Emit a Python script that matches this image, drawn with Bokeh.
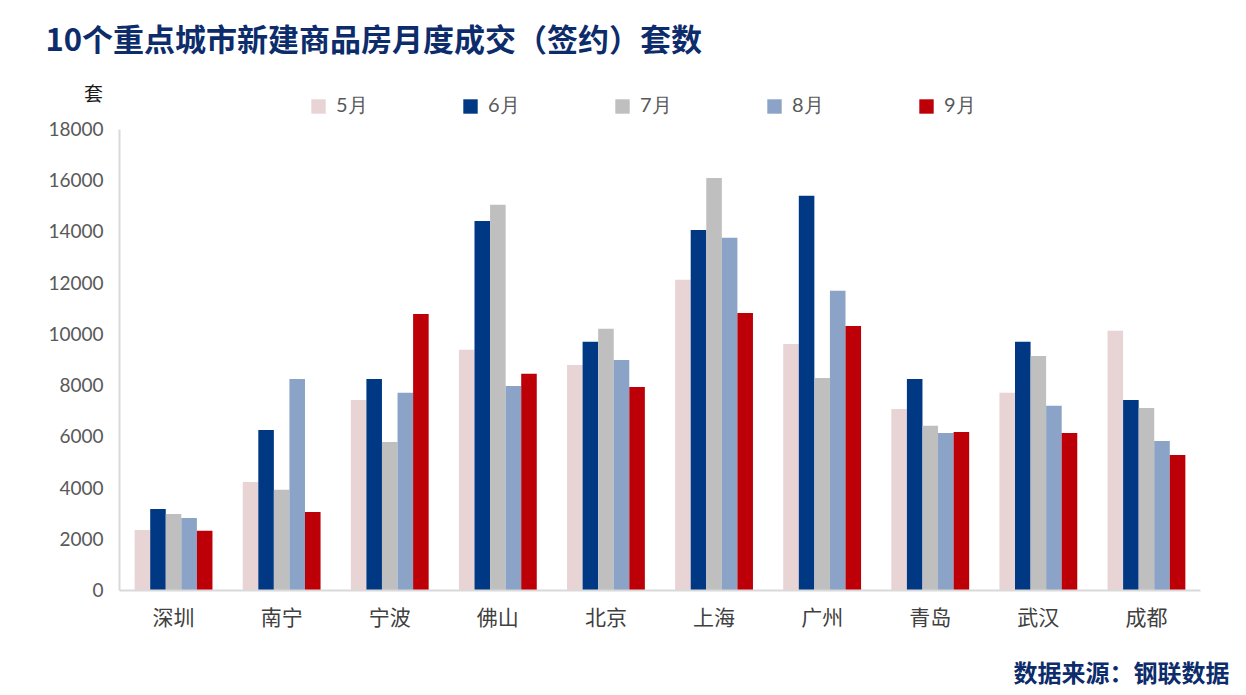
from bokeh.plotting import figure
from bokeh.models import (Range1d, Label, Legend, LegendItem, LinearAxis,
                          FixedTicker, NumeralTickFormatter, ColumnDataSource)
from bokeh.transform import dodge
from bokeh.embed import file_html
from bokeh.resources import INLINE

cities = ["深圳", "南宁", "宁波", "佛山", "北京", "上海", "广州", "青岛", "武汉", "成都"]
months = ["5月", "6月", "7月", "8月", "9月"]
may = [2340, 4220, 7420, 9380, 8790, 12110, 9610, 7070, 7700, 10120]
jun = [3160, 6250, 8240, 14410, 9690, 14060, 15390, 8240, 9690, 7420]
jul = [2970, 3910, 5780, 15040, 10200, 16090, 8280, 6410, 9140, 7110]
aug = [2810, 8240, 7700, 7970, 8980, 13750, 11680, 6130, 7190, 5820]
sep = [2310, 3050, 10780, 8440, 7930, 10820, 10310, 6170, 6130, 5270]
y_ticks = [0, 2000, 4000, 6000, 8000, 10000, 12000, 14000, 16000, 18000]
y_max = 18000

colors = ["#e8d4d4", "#003883", "#bfbfbf", "#8aa3c6", "#bd0008"]

pos = list(range(1, len(cities) + 1))  # category slots 1..10
src = ColumnDataSource(dict(pos=pos, m5=may, m6=jun, m7=jul, m8=aug, m9=sep))

W, H = 1240, 690
# layout in pixels (frame = whole canvas)
ax_left_px, ax_bottom_px, slot_px, plot_h_px = 119.0, 589.5, 108.1, 461.0
x0 = 0.5 - ax_left_px / slot_px
x1 = 0.5 + (W - ax_left_px) / slot_px
ppu = y_max / plot_h_px
y1 = ax_bottom_px * ppu
y0 = -(H - ax_bottom_px) * ppu

p = figure(width=W, height=H, x_range=Range1d(x0, x1), y_range=Range1d(y0, y1),
           output_backend="svg", toolbar_location=None,
           x_axis_location=None, y_axis_location=None,
           min_border=0, min_border_left=0, min_border_right=0,
           min_border_top=0, min_border_bottom=0)

bw = 0.144
keys = ["m5", "m6", "m7", "m8", "m9"]
renderers = []
for i, (k, c) in enumerate(zip(keys, colors)):
    r = p.vbar(x=dodge("pos", (i - 2) * bw), top=k, width=bw,
               source=src, fill_color=c, line_color=None)
    renderers.append(r)

p.xgrid.visible = False
p.ygrid.visible = False
p.outline_line_color = None
p.background_fill_color = "white"
p.border_fill_color = "white"

ya = LinearAxis(fixed_location=0.5, bounds=(0, y_max))
ya.ticker = FixedTicker(ticks=y_ticks)
ya.formatter = NumeralTickFormatter(format="0")
ya.axis_line_color = "#d9d9d9"
ya.axis_line_width = 2
ya.major_tick_line_color = None
ya.minor_tick_line_color = None
ya.major_tick_out = 0
ya.major_tick_in = 0
ya.major_label_standoff = 16
ya.major_label_text_font = "Lato"
ya.major_label_text_font_size = "19px"
ya.major_label_text_color = "#595959"
p.add_layout(ya, "left")

xa = LinearAxis(fixed_location=0, bounds=(0.5, len(cities) + 0.5))
xa.ticker = FixedTicker(ticks=pos)
xa.major_label_overrides = {k: c for k, c in zip(pos, cities)}
xa.axis_line_color = "#d9d9d9"
xa.axis_line_width = 2
xa.major_tick_line_color = None
xa.minor_tick_line_color = None
xa.major_tick_out = 0
xa.major_tick_in = 0
xa.major_label_standoff = 11
xa.major_label_text_font = "Noto Sans CJK SC"
xa.major_label_text_font_size = "21px"
xa.major_label_text_color = "#404040"
p.add_layout(xa, "below")

# legends, one per month
leg_x = [309, 461, 613, 765, 917]
for i, (m, r) in enumerate(zip(months, renderers)):
    lg = Legend(items=[LegendItem(label=m, renderers=[r])], location=(leg_x[i], H - 119),
                orientation="horizontal", glyph_width=18, glyph_height=18,
                label_standoff=9, padding=0, margin=0, border_line_color=None,
                background_fill_alpha=0, label_text_font="Lato",
                label_text_font_size="20px", label_text_color="#595959")
    p.add_layout(lg, "center")

navy = "#0c2c6b"
p.add_layout(Label(x=0.5 - 74 / slot_px, y=552.5 * ppu,
                   text="10个重点城市新建商品房月度成交（签约）套数",
                   text_font="Noto Sans CJK SC", text_font_style="bold",
                   text_font_size="31px", text_color=navy,
                   text_align="left", text_baseline="middle"))
p.add_layout(Label(x=0.5 - 26 / slot_px, y=497.5 * ppu,
                   text="套", text_font="Noto Sans CJK SC", text_font_size="19px",
                   text_color="#1a1a1a", text_align="center", text_baseline="middle"))
p.add_layout(Label(x=0.5 + 1110 / slot_px, y=-81 * ppu,
                   text="数据来源：钢联数据", text_font="Noto Sans CJK SC",
                   text_font_style="bold", text_font_size="24px", text_color=navy,
                   text_align="right", text_baseline="middle"))

open("out.html", "w").write(file_html(p, INLINE))
